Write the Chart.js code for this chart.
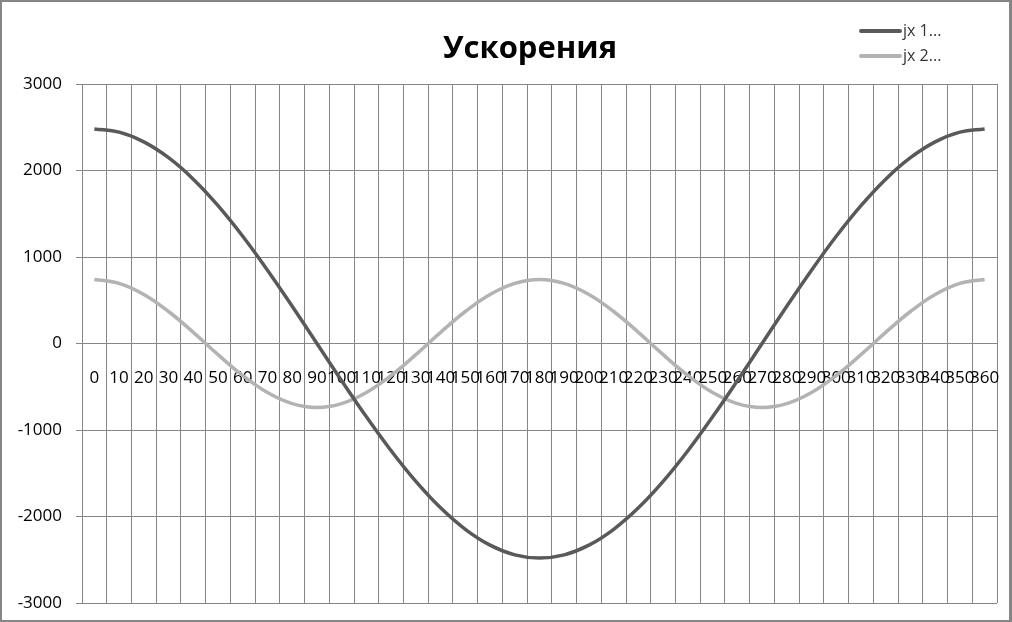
<!DOCTYPE html>
<html>
<head>
<meta charset="utf-8">
<script src="https://cdn.jsdelivr.net/npm/chart.js@4.4.0/dist/chart.umd.min.js"></script>
<style>
  html, body { margin: 0; padding: 0; background: #fff; }
  #wrap { position: relative; width: 1012px; height: 622px; }
  #frame { position: absolute; left: 0; top: 0; width: 1012px; height: 622px; box-sizing: border-box;
           border: 2px solid #868686; border-right-width: 3px; pointer-events: none; }
</style>
</head>
<body>
<div id="wrap">
  <canvas id="chart" width="1012" height="622"></canvas>
  <div id="frame"></div>
</div>
<script>
const angles = ['0','10','20','30','40','50','60','70','80','90','100','110','120','130','140','150','160','170','180',
  '190','200','210','220','230','240','250','260','270','280','290','300','310','320','330','340','350','360'];

const jx1 = [2480, 2443, 2331, 2148, 1900, 1594, 1240, 848, 431, 0, -431, -848, -1240, -1594, -1900, -2148, -2331, -2443, -2480,
  -2443, -2331, -2148, -1900, -1594, -1240, -848, -431, 0, 431, 848, 1240, 1594, 1900, 2148, 2331, 2443, 2480];

const jx2 = [740, 695, 567, 370, 129, -129, -370, -567, -695, -740, -695, -567, -370, -129, 129, 370, 567, 695, 740,
  695, 567, 370, 129, -129, -370, -567, -695, -740, -695, -567, -370, -129, 129, 370, 567, 695, 740];

const yTicks = [-3000, -2000, -1000, 0, 1000, 2000, 3000];
const seriesNames = ['jx 1...', 'jx 2...'];
const chartTitle = 'Ускорения';

const gridColor = '#868686';
const fontFamily = '"Open Sans", "DejaVu Sans", sans-serif';

// title and legend sit above the plot, legend in the top right corner
const headerPlugin = {
  id: 'header',
  afterDraw(chart) {
    const ctx = chart.ctx;
    ctx.save();
    ctx.fillStyle = '#000';
    ctx.font = 'bold 31px ' + fontFamily;
    ctx.textAlign = 'center';
    ctx.textBaseline = 'middle';
    ctx.fillText(chartTitle, 530, 49);

    chart.data.datasets.forEach((ds, i) => {
      const y = 31 + i * 25;
      ctx.strokeStyle = ds.borderColor;
      ctx.lineWidth = 4;
      ctx.lineCap = 'round';
      ctx.beginPath();
      ctx.moveTo(861, y);
      ctx.lineTo(900, y);
      ctx.stroke();
      ctx.fillStyle = '#333';
      ctx.font = '16px ' + fontFamily;
      ctx.textAlign = 'left';
      ctx.fillText(ds.label, 903, y);
    });
    ctx.restore();
  }
};

new Chart(document.getElementById('chart'), {
  type: 'line',
  data: {
    labels: angles,
    datasets: [
      {
        label: seriesNames[0],
        data: jx1,
        borderColor: '#595959',
        borderWidth: 3.5,
        pointRadius: 0,
        tension: 0.4,
        fill: false
      },
      {
        label: seriesNames[1],
        data: jx2,
        borderColor: '#b3b3b3',
        borderWidth: 3.5,
        pointRadius: 0,
        tension: 0.4,
        fill: false
      }
    ]
  },
  options: {
    responsive: false,
    animation: false,
    layout: { padding: { left: 2, right: 15, top: 84, bottom: 19 } },
    plugins: {
      legend: { display: false },
      tooltip: { enabled: false },
      title: { display: false }
    },
    scales: {
      x: {
        position: { y: 0 },
        offset: true,
        afterFit: (scale) => { scale.paddingLeft = 0; scale.paddingRight = 0; },
        grid: { color: gridColor, offset: true, drawTicks: false },
        border: { color: gridColor },
        ticks: {
          autoSkip: false,
          maxRotation: 0,
          minRotation: 0,
          padding: 24,
          color: '#000',
          font: { family: fontFamily, size: 17 }
        }
      },
      y: {
        min: -3000,
        max: 3000,
        afterFit: (scale) => { scale.width = 80; scale.paddingTop = 0; scale.paddingBottom = 0; },
        afterBuildTicks: (scale) => { scale.ticks = yTicks.map(v => ({ value: v })); },
        grid: { color: gridColor, tickLength: 6 },
        border: { color: gridColor },
        ticks: {
          padding: 14,
          color: '#000',
          font: { family: fontFamily, size: 17 },
          callback: (v) => String(v)
        }
      }
    }
  },
  plugins: [headerPlugin]
});
</script>
</body>
</html>
